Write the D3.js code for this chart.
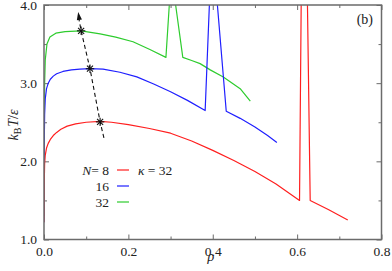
<!DOCTYPE html>
<html>
<head>
<meta charset="utf-8">
<script src="https://cdn.jsdelivr.net/npm/d3@7"></script>
<style>
  body { margin: 0; background: #fff; }
  svg text { font-family: 'Liberation Serif', 'Times New Roman', 'DejaVu Serif', serif; fill: #222; }
</style>
</head>
<body>
<svg id="chart" width="392" height="271"></svg>
<script>
// N = 8
const rho8 = [0, 0.0005, 0.0015, 0.003, 0.006, 0.01, 0.015, 0.022, 0.03, 0.04, 0.055, 0.075, 0.1, 0.133, 0.16, 0.2, 0.25, 0.3, 0.35, 0.4, 0.45, 0.5, 0.55, 0.6057, 0.6096, 0.611, 0.623, 0.6245, 0.631, 0.675, 0.72];
const temp8 = [1.22, 1.7, 1.97, 2.08, 2.17, 2.23, 2.28, 2.33, 2.37, 2.41, 2.45, 2.48, 2.5, 2.51, 2.5, 2.47, 2.42, 2.36, 2.26, 2.14, 2.01, 1.87, 1.71, 1.5, 4.0, 4.4, 4.4, 4.0, 1.5, 1.38, 1.25];
// N = 16
const rho16 = [0, 0.0005, 0.0015, 0.003, 0.006, 0.01, 0.015, 0.022, 0.03, 0.045, 0.065, 0.085, 0.109, 0.14, 0.18, 0.22, 0.26, 0.3, 0.34, 0.382, 0.392, 0.394, 0.408, 0.411, 0.432, 0.465, 0.5, 0.53, 0.552];
const temp16 = [1.22, 2.2, 2.6, 2.8, 2.93, 3.0, 3.05, 3.09, 3.12, 3.15, 3.17, 3.18, 3.185, 3.18, 3.14, 3.08, 2.99, 2.89, 2.78, 2.65, 4.0, 4.3, 4.3, 4.0, 2.64, 2.55, 2.44, 2.33, 2.24];
// N = 32
const rho32 = [0, 0.0005, 0.0015, 0.003, 0.007, 0.014, 0.028, 0.05, 0.088, 0.133, 0.17, 0.211, 0.251, 0.289, 0.297, 0.299, 0.31, 0.312, 0.329, 0.35, 0.37, 0.394, 0.425, 0.465, 0.489];
const temp32 = [1.3, 2.4, 3.0, 3.3, 3.5, 3.59, 3.64, 3.66, 3.67, 3.63, 3.59, 3.53, 3.43, 3.33, 4.0, 4.3, 4.3, 4.0, 3.33, 3.29, 3.25, 3.17, 3.08, 2.93, 2.77];
// maxima and arrow through them
const starRho = [0.133, 0.109, 0.088];
const starTemp = [2.505, 3.185, 3.67];
const arrowRho = [0.142, 0.133, 0.109, 0.088, 0.081];
const arrowTemp = [2.30, 2.505, 3.185, 3.67, 3.91];

const xTicks = [0, 0.2, 0.4, 0.6, 0.8];
const xMinor = [0.1, 0.3, 0.5, 0.7];
const yTicks = [1, 2, 3, 4];
const yMinor = [1.5, 2.5, 3.5];
const legendN = ["8", "16", "32"];

const colors = ["#ff1f1f", "#1f1fff", "#2ecc2e"];

const svg = d3.select("#chart");
const mLeft = 44, mRight = 381.5, mTop = 5, mBottom = 239.5;

const x = d3.scaleLinear().domain([0, 0.8]).range([mLeft, mRight]);
const y = d3.scaleLinear().domain([1, 4]).range([mBottom, mTop]);

svg.append("defs").append("clipPath").attr("id", "plotclip")
  .append("rect").attr("x", mLeft).attr("y", mTop)
  .attr("width", mRight - mLeft).attr("height", mBottom - mTop);

const frameColor = "#6b6b6b";

function tickAxis(axis, tx, ty, size, labels) {
  const g = svg.append("g").attr("transform", "translate(" + tx + "," + ty + ")")
    .call(axis.tickSizeInner(size).tickSizeOuter(0).tickPadding(7));
  g.attr("font-family", null).attr("font-size", null);
  g.select(".domain").remove();
  g.selectAll("line").attr("stroke", frameColor).attr("stroke-width", 1);
  g.selectAll("text").style("font-size", "13.5px");
  if (!labels) g.selectAll("text").remove();
  return g;
}

// major + minor ticks, all pointing inward
tickAxis(d3.axisBottom(x).tickValues(xTicks).tickFormat(d3.format(".1f")), 0, mBottom, -5, true);
tickAxis(d3.axisBottom(x).tickValues(xMinor), 0, mBottom, -3, false);
tickAxis(d3.axisTop(x).tickValues(xTicks), 0, mTop, -5, false);
tickAxis(d3.axisTop(x).tickValues(xMinor), 0, mTop, -3, false);
tickAxis(d3.axisLeft(y).tickValues(yTicks).tickFormat(d3.format(".1f")), mLeft, 0, -5, true);
tickAxis(d3.axisLeft(y).tickValues(yMinor), mLeft, 0, -3, false);
tickAxis(d3.axisRight(y).tickValues(yTicks), mRight, 0, -5, false);
tickAxis(d3.axisRight(y).tickValues(yMinor), mRight, 0, -3, false);

// curves, drawn green first so red ends on top at rho = 0
const plot = svg.append("g").attr("clip-path", "url(#plotclip)");
const line = d3.line().x(d => x(d[0])).y(d => y(d[1]));
const series = [
  [rho32, temp32, colors[2]],
  [rho16, temp16, colors[1]],
  [rho8, temp8, colors[0]]
];
series.forEach(s => {
  plot.append("path")
    .attr("d", line(d3.zip(s[0], s[1])))
    .attr("fill", "none")
    .attr("stroke", s[2])
    .attr("stroke-width", 1.2)
    .attr("stroke-linejoin", "round");
});

// dashed arrow through the maxima
const arrowPts = d3.zip(arrowRho, arrowTemp);
plot.append("path")
  .attr("d", line(arrowPts.slice(0, -1).concat([[arrowRho[4] + 0.0008, arrowTemp[4] - 0.06]])))
  .attr("fill", "none").attr("stroke", "#111")
  .attr("stroke-width", 1.1).attr("stroke-dasharray", "4,3");
{
  const p1 = [x(arrowRho[3]), y(arrowTemp[3])];
  const p2 = [x(arrowRho[4]), y(arrowTemp[4])];
  const ang = Math.atan2(p2[1] - p1[1], p2[0] - p1[0]);
  const len = 8, wid = 2.6;
  const bx = p2[0] - len * Math.cos(ang), by = p2[1] - len * Math.sin(ang);
  const nx = -Math.sin(ang), ny = Math.cos(ang);
  svg.append("path")
    .attr("d", "M" + p2 + "L" + (bx + nx * wid) + "," + (by + ny * wid) +
      "L" + (bx - nx * wid) + "," + (by - ny * wid) + "Z")
    .attr("fill", "#111");
}

// asterisk markers
d3.zip(starRho, starTemp).forEach(d => {
  const cx = x(d[0]), cy = y(d[1]), r = 4.2, q = r * 0.72;
  const g = svg.append("g").attr("stroke", "#111").attr("stroke-width", 1.1);
  [[-r, 0, r, 0], [0, -r, 0, r], [-q, -q, q, q], [-q, q, q, -q]].forEach(l => {
    g.append("line").attr("x1", cx + l[0]).attr("y1", cy + l[1])
      .attr("x2", cx + l[2]).attr("y2", cy + l[3]);
  });
});

// frame
svg.append("rect").attr("x", mLeft).attr("y", mTop)
  .attr("width", mRight - mLeft).attr("height", mBottom - mTop)
  .attr("fill", "none").attr("stroke", frameColor).attr("stroke-width", 1.5);

// legend
const legY = [170, 186, 202];
legendN.forEach((n, i) => {
  const t = svg.append("text").attr("x", 109).attr("y", legY[i] + 4.5)
    .attr("text-anchor", "end").style("font-size", "13.5px");
  if (i === 0) {
    t.append("tspan").style("font-style", "italic").text("N");
    t.append("tspan").text("= " + n);
  } else {
    t.text(n);
  }
  svg.append("line").attr("x1", 117).attr("x2", 129)
    .attr("y1", legY[i]).attr("y2", legY[i])
    .attr("stroke", colors[i]).attr("stroke-width", 1.2);
});
const kap = svg.append("text").attr("x", 138).attr("y", legY[0] + 4.5)
  .style("font-size", "13.5px");
kap.append("tspan").style("font-style", "italic").text("κ");
kap.append("tspan").text(" = 32");

// panel label
svg.append("text").attr("x", 373).attr("y", 24).attr("text-anchor", "end")
  .style("font-size", "14px").text("(b)");

// axis titles
svg.append("text").attr("x", (mLeft + mRight) / 2 - 2).attr("y", 261)
  .attr("text-anchor", "middle").style("font-size", "14px").style("font-style", "italic")
  .text("ρ");

const yl = svg.append("text")
  .attr("transform", "translate(18,125) rotate(-90)")
  .attr("text-anchor", "middle").style("font-size", "14px");
yl.append("tspan").style("font-style", "italic").text("k");
yl.append("tspan").style("font-size", "10px").attr("dy", 3).text("B");
yl.append("tspan").style("font-style", "italic").attr("dy", -3).attr("dx", 1).text("T");
yl.append("tspan").text("/");
yl.append("tspan").style("font-style", "italic").text("ε");
</script>
</body>
</html>
